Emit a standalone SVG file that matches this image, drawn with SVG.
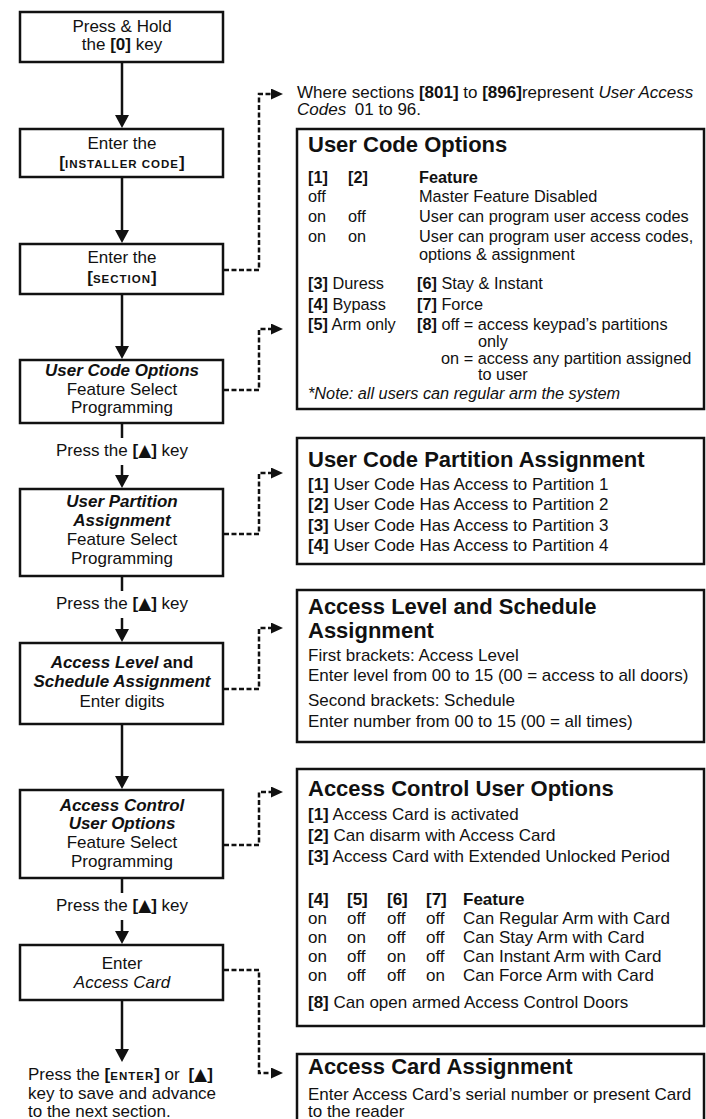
<svg xmlns="http://www.w3.org/2000/svg" width="706" height="1119" viewBox="0 0 706 1119">
<style>
.box{fill:#fff;stroke:#111;stroke-width:2.5}
.t{font-family:"Liberation Sans",Arial,"DejaVu Sans",sans-serif;font-size:17px;fill:#111}
.c{text-anchor:middle}
.b{font-weight:bold}
.i{font-style:italic}
.sc{font-size:11.5px;font-weight:bold;letter-spacing:1px}
.h{font-size:22px;font-weight:bold}
.s{font-size:16.3px}
.tri{font-family:"DejaVu Sans",sans-serif;font-size:17px}
.ln{stroke:#111;stroke-width:2.5;fill:none}
.ds{stroke:#111;stroke-width:2.5;fill:none;stroke-dasharray:5 2.5}
</style>
<defs>
<marker id="ah" markerUnits="userSpaceOnUse" markerWidth="14" markerHeight="14" refX="3" refY="7" orient="auto"><path d="M0,0 L13,7 L0,14 z" fill="#111"/></marker>
<marker id="sh" markerUnits="userSpaceOnUse" markerWidth="12" markerHeight="11" refX="2" refY="5.5" orient="auto"><path d="M0,0 L12,5.5 L0,11 z" fill="#111"/></marker>
</defs>
<rect width="706" height="1119" fill="#fff"/>

<g id="connectors">
<line class="ln" x1="122" y1="63" x2="122" y2="118" marker-end="url(#ah)"/>
<line class="ln" x1="122" y1="178" x2="122" y2="233" marker-end="url(#ah)"/>
<line class="ln" x1="122" y1="295" x2="122" y2="349" marker-end="url(#ah)"/>
<line class="ln" x1="122" y1="424" x2="122" y2="438"/>
<line class="ln" x1="122" y1="465" x2="122" y2="478" marker-end="url(#ah)"/>
<line class="ln" x1="122" y1="577" x2="122" y2="591"/>
<line class="ln" x1="122" y1="618" x2="122" y2="632" marker-end="url(#ah)"/>
<line class="ln" x1="122" y1="725" x2="122" y2="779" marker-end="url(#ah)"/>
<line class="ln" x1="122" y1="879" x2="122" y2="893"/>
<line class="ln" x1="122" y1="920" x2="122" y2="934" marker-end="url(#ah)"/>
<line class="ln" x1="122" y1="1001" x2="122" y2="1052" marker-end="url(#ah)"/>
<path class="ds" d="M224,270 H259 V94 H273" marker-end="url(#sh)"/>
<path class="ds" d="M224,390 H259 V329 H273" marker-end="url(#sh)"/>
<path class="ds" d="M224,534 H259 V473 H273" marker-end="url(#sh)"/>
<path class="ds" d="M224,689 H259 V628 H273" marker-end="url(#sh)"/>
<path class="ds" d="M224,845 H259 V792 H273" marker-end="url(#sh)"/>
<path class="ds" d="M224,970 H259 V1073 H273" marker-end="url(#sh)"/>
<text class="t c" x="122" y="456">Press the <tspan class="b">[<tspan class="tri">▲</tspan>]</tspan> key</text>
<text class="t c" x="122" y="609">Press the <tspan class="b">[<tspan class="tri">▲</tspan>]</tspan> key</text>
<text class="t c" x="122" y="911">Press the <tspan class="b">[<tspan class="tri">▲</tspan>]</tspan> key</text>
</g>

<g id="n1">
<rect class="box" x="20" y="12" width="203" height="50"/>
<text class="t c" x="122" y="32">Press &amp; Hold</text>
<text class="t c" x="122" y="50">the <tspan class="b">[0]</tspan> key</text>
</g>
<g id="n2">
<rect class="box" x="20" y="129" width="203" height="48"/>
<text class="t c" x="122" y="149">Enter the</text>
<text class="t c" x="122" y="168"><tspan class="b">[</tspan><tspan class="sc">INSTALLER CODE</tspan><tspan class="b">]</tspan></text>
</g>
<g id="n3">
<rect class="box" x="20" y="244" width="203" height="50"/>
<text class="t c" x="122" y="263">Enter the</text>
<text class="t c" x="122" y="283"><tspan class="b">[</tspan><tspan class="sc">SECTION</tspan><tspan class="b">]</tspan></text>
</g>
<g id="n4">
<rect class="box" x="20" y="360" width="203" height="63"/>
<text class="t c b i" x="122" y="376">User Code Options</text>
<text class="t c" x="122" y="395">Feature Select</text>
<text class="t c" x="122" y="413">Programming</text>
</g>
<g id="n5">
<rect class="box" x="20" y="489" width="203" height="87"/>
<text class="t c b i" x="122" y="507">User Partition</text>
<text class="t c b i" x="122" y="526">Assignment</text>
<text class="t c" x="122" y="545">Feature Select</text>
<text class="t c" x="122" y="564">Programming</text>
</g>
<g id="n6">
<rect class="box" x="20" y="643" width="203" height="81"/>
<text class="t c b" x="122" y="668"><tspan class="i">Access Level</tspan> and</text>
<text class="t c b i" x="122" y="687">Schedule Assignment</text>
<text class="t c" x="122" y="707">Enter digits</text>
</g>
<g id="n7">
<rect class="box" x="20" y="790" width="203" height="88"/>
<text class="t c b i" x="122" y="811">Access Control</text>
<text class="t c b i" x="122" y="829">User Options</text>
<text class="t c" x="122" y="848">Feature Select</text>
<text class="t c" x="122" y="867">Programming</text>
</g>
<g id="n8">
<rect class="box" x="20" y="945" width="203" height="55"/>
<text class="t c" x="122" y="969">Enter</text>
<text class="t c i" x="122" y="988">Access Card</text>
</g>
<g id="n9">
<text class="t" x="28" y="1080">Press the <tspan class="b">[</tspan><tspan class="sc">ENTER</tspan><tspan class="b">]</tspan> or <tspan class="b" dx="4">[<tspan class="tri">▲</tspan>]</tspan></text>
<text class="t" x="28" y="1099">key to save and advance</text>
<text class="t" x="28" y="1117">to the next section.</text>
</g>

<g id="note">
<text class="t" x="297" y="98">Where sections <tspan class="b">[801]</tspan> to <tspan class="b">[896]</tspan>represent <tspan class="i">User Access</tspan></text>
<text class="t" x="297" y="115"><tspan class="i">Codes</tspan><tspan dx="4"> 01 to 96.</tspan></text>
</g>

<g id="r1">
<rect class="box" x="297" y="129" width="407" height="280"/>
<text class="t h" x="308" y="152">User Code Options</text>
<text class="t s b" y="183"><tspan x="308">[1]</tspan><tspan x="348">[2]</tspan><tspan x="419">Feature</tspan></text>
<text class="t s" y="202"><tspan x="308">off</tspan><tspan x="419">Master Feature Disabled</tspan></text>
<text class="t s" y="222"><tspan x="308">on</tspan><tspan x="348">off</tspan><tspan x="419">User can program user access codes</tspan></text>
<text class="t s" y="242"><tspan x="308">on</tspan><tspan x="348">on</tspan><tspan x="419">User can program user access codes,</tspan></text>
<text class="t s" x="419" y="260">options &amp; assignment</text>
<text class="t s" x="308" y="289"><tspan class="b">[3]</tspan> Duress</text>
<text class="t s" x="417" y="289"><tspan class="b">[6]</tspan> Stay &amp; Instant</text>
<text class="t s" x="308" y="310"><tspan class="b">[4]</tspan> Bypass</text>
<text class="t s" x="417" y="310"><tspan class="b">[7]</tspan> Force</text>
<text class="t s" x="308" y="330"><tspan class="b">[5]</tspan> Arm only</text>
<text class="t s" x="417" y="330"><tspan class="b">[8]</tspan> off = access keypad’s partitions</text>
<text class="t s" x="478" y="347">only</text>
<text class="t s" x="441" y="364">on = access any partition assigned</text>
<text class="t s" x="478" y="380">to user</text>
<text class="t s i" x="308" y="399">*Note: all users can regular arm the system</text>
</g>

<g id="r2">
<rect class="box" x="297" y="438" width="407" height="126"/>
<text class="t h" x="308" y="467">User Code Partition Assignment</text>
<text class="t" x="308" y="490"><tspan class="b">[1]</tspan> User Code Has Access to Partition 1</text>
<text class="t" x="308" y="510"><tspan class="b">[2]</tspan> User Code Has Access to Partition 2</text>
<text class="t" x="308" y="531"><tspan class="b">[3]</tspan> User Code Has Access to Partition 3</text>
<text class="t" x="308" y="551"><tspan class="b">[4]</tspan> User Code Has Access to Partition 4</text>
</g>

<g id="r3">
<rect class="box" x="297" y="590" width="407" height="152"/>
<text class="t h" x="308" y="614">Access Level and Schedule</text>
<text class="t h" x="308" y="638">Assignment</text>
<text class="t" x="308" y="661">First brackets: Access Level</text>
<text class="t" x="308" y="681">Enter level from 00 to 15 (00 = access to all doors)</text>
<text class="t" x="308" y="706">Second brackets: Schedule</text>
<text class="t" x="308" y="727">Enter number from 00 to 15 (00 = all times)</text>
</g>

<g id="r4">
<rect class="box" x="297" y="769" width="407" height="257"/>
<text class="t h" x="308" y="796">Access Control User Options</text>
<text class="t" x="308" y="820"><tspan class="b">[1]</tspan> Access Card is activated</text>
<text class="t" x="308" y="841"><tspan class="b">[2]</tspan> Can disarm with Access Card</text>
<text class="t" x="308" y="862"><tspan class="b">[3]</tspan> Access Card with Extended Unlocked Period</text>
<text class="t b" y="905"><tspan x="308">[4]</tspan><tspan x="347">[5]</tspan><tspan x="387">[6]</tspan><tspan x="426">[7]</tspan><tspan x="463">Feature</tspan></text>
<text class="t" y="924"><tspan x="308">on</tspan><tspan x="347">off</tspan><tspan x="387">off</tspan><tspan x="426">off</tspan><tspan x="463">Can Regular Arm with Card</tspan></text>
<text class="t" y="943"><tspan x="308">on</tspan><tspan x="347">on</tspan><tspan x="387">off</tspan><tspan x="426">off</tspan><tspan x="463">Can Stay Arm with Card</tspan></text>
<text class="t" y="962"><tspan x="308">on</tspan><tspan x="347">off</tspan><tspan x="387">on</tspan><tspan x="426">off</tspan><tspan x="463">Can Instant Arm with Card</tspan></text>
<text class="t" y="981"><tspan x="308">on</tspan><tspan x="347">off</tspan><tspan x="387">off</tspan><tspan x="426">on</tspan><tspan x="463">Can Force Arm with Card</tspan></text>
<text class="t" x="308" y="1008"><tspan class="b">[8]</tspan> Can open armed Access Control Doors</text>
</g>

<g id="r5">
<rect class="box" x="297" y="1054" width="407" height="100"/>
<text class="t h" x="308" y="1074">Access Card Assignment</text>
<text class="t" x="308" y="1100">Enter Access Card’s serial number or present Card</text>
<text class="t" x="308" y="1117">to the reader</text>
</g>
</svg>
